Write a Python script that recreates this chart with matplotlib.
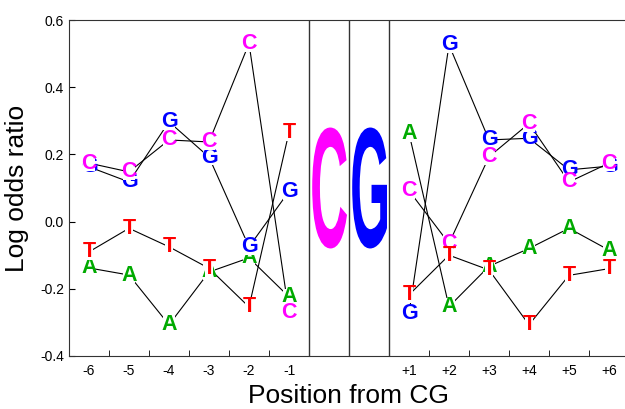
import numpy as np
import matplotlib
matplotlib.use('Agg')
import matplotlib.pyplot as plt
import matplotlib.transforms as mtransforms
from matplotlib.textpath import TextPath
from matplotlib.patches import PathPatch
from matplotlib.font_manager import FontProperties

plt.rcParams['font.family'] = ['Liberation Sans', 'DejaVu Sans']

# positions around the CG
left_labels = ['-6', '-5', '-4', '-3', '-2', '-1']
right_labels = ['+1', '+2', '+3', '+4', '+5', '+6']

# log odds ratio per nucleotide, positions -6..-1
left_A = [-0.138, -0.159, -0.307, -0.150, -0.108, -0.224]
left_C = [0.174, 0.148, 0.243, 0.237, 0.530, -0.272]
left_G = [0.163, 0.118, 0.297, 0.192, -0.075, 0.090]
left_T = [-0.090, -0.020, -0.075, -0.139, -0.254, 0.266]

# positions +1..+6
right_A = [0.263, -0.253, -0.133, -0.080, -0.020, -0.085]
right_C = [0.092, -0.065, 0.193, 0.292, 0.118, 0.174]
right_G = [-0.273, 0.526, 0.243, 0.248, 0.154, 0.165]
right_T = [-0.218, -0.100, -0.144, -0.307, -0.160, -0.140]

colors = {'A': '#00aa00', 'C': '#ff00ff', 'G': '#0000ff', 'T': '#ff0000'}

fig = plt.figure(figsize=(6.25, 4.09), dpi=100)
ax = fig.add_axes([0.1104, 0.1296, 0.8960, 0.8215])

xl = np.arange(6) + 0.5
xr = np.arange(6) + 8.5

series = [('A', left_A, right_A), ('G', left_G, right_G),
          ('C', left_C, right_C), ('T', left_T, right_T)]

# connecting lines
for nt, lv, rv in series:
    for xs, vs in ((xl, lv), (xr, rv)):
        for i in range(len(xs) - 1):
            ax.annotate('', xy=(xs[i + 1], vs[i + 1]), xytext=(xs[i], vs[i]),
                        arrowprops=dict(arrowstyle='-', color='black', lw=0.8,
                                        shrinkA=2, shrinkB=2), zorder=1)

# letters on small white boxes so the lines stop at them
for nt, lv, rv in series:
    for xs, vs in ((xl, lv), (xr, rv)):
        for x, v in zip(xs, vs):
            ax.text(x, v, nt, color=colors[nt], fontsize=15.5, fontweight='bold',
                    ha='center', va='center', zorder=3,
                    bbox=dict(fc='white', ec='none', pad=-1.5))


def big_letter(ch, x0, x1, y0, y1, color):
    fp = FontProperties(family='Liberation Sans', weight='bold')
    tp = TextPath((0, 0), ch, size=1, prop=fp)
    bb = tp.get_extents()
    t = (mtransforms.Affine2D().translate(-bb.x0, -bb.y0)
         .scale((x1 - x0) / bb.width, (y1 - y0) / bb.height)
         .translate(x0, y0))
    ax.add_patch(PathPatch(t.transform_path(tp), fc=color, ec='none', zorder=2))


big_letter('C', 6.08, 6.95, -0.08, 0.28, colors['C'])
big_letter('G', 7.08, 7.95, -0.08, 0.28, colors['G'])

for x in (6, 7, 8):
    ax.axvline(x, color='#333333', lw=1.0)

ax.set_xlim(0, 14)
ax.set_ylim(-0.4, 0.6)
ax.set_xticks(list(xl) + list(xr))
ax.set_xticklabels(left_labels + right_labels, fontsize=10)
ax.set_xticks([1, 2, 3, 4, 5, 9, 10, 11, 12, 13], minor=True)
ax.tick_params(axis='x', which='major', length=0, pad=6)
ax.tick_params(axis='x', which='minor', direction='in', length=4)
ax.set_yticks([-0.4, -0.2, 0.0, 0.2, 0.4, 0.6])
ax.set_yticklabels(['-0.4', '-0.2', '0.0', '0.2', '0.4', '0.6'], fontsize=10)
ax.tick_params(axis='y', direction='in', length=4)
for s in ax.spines.values():
    s.set_color('#333333')

ax.set_xlabel('Position from CG', fontsize=19)
ax.set_ylabel('Log odds ratio', fontsize=19, labelpad=8)

fig.savefig('out.png', dpi=100)
